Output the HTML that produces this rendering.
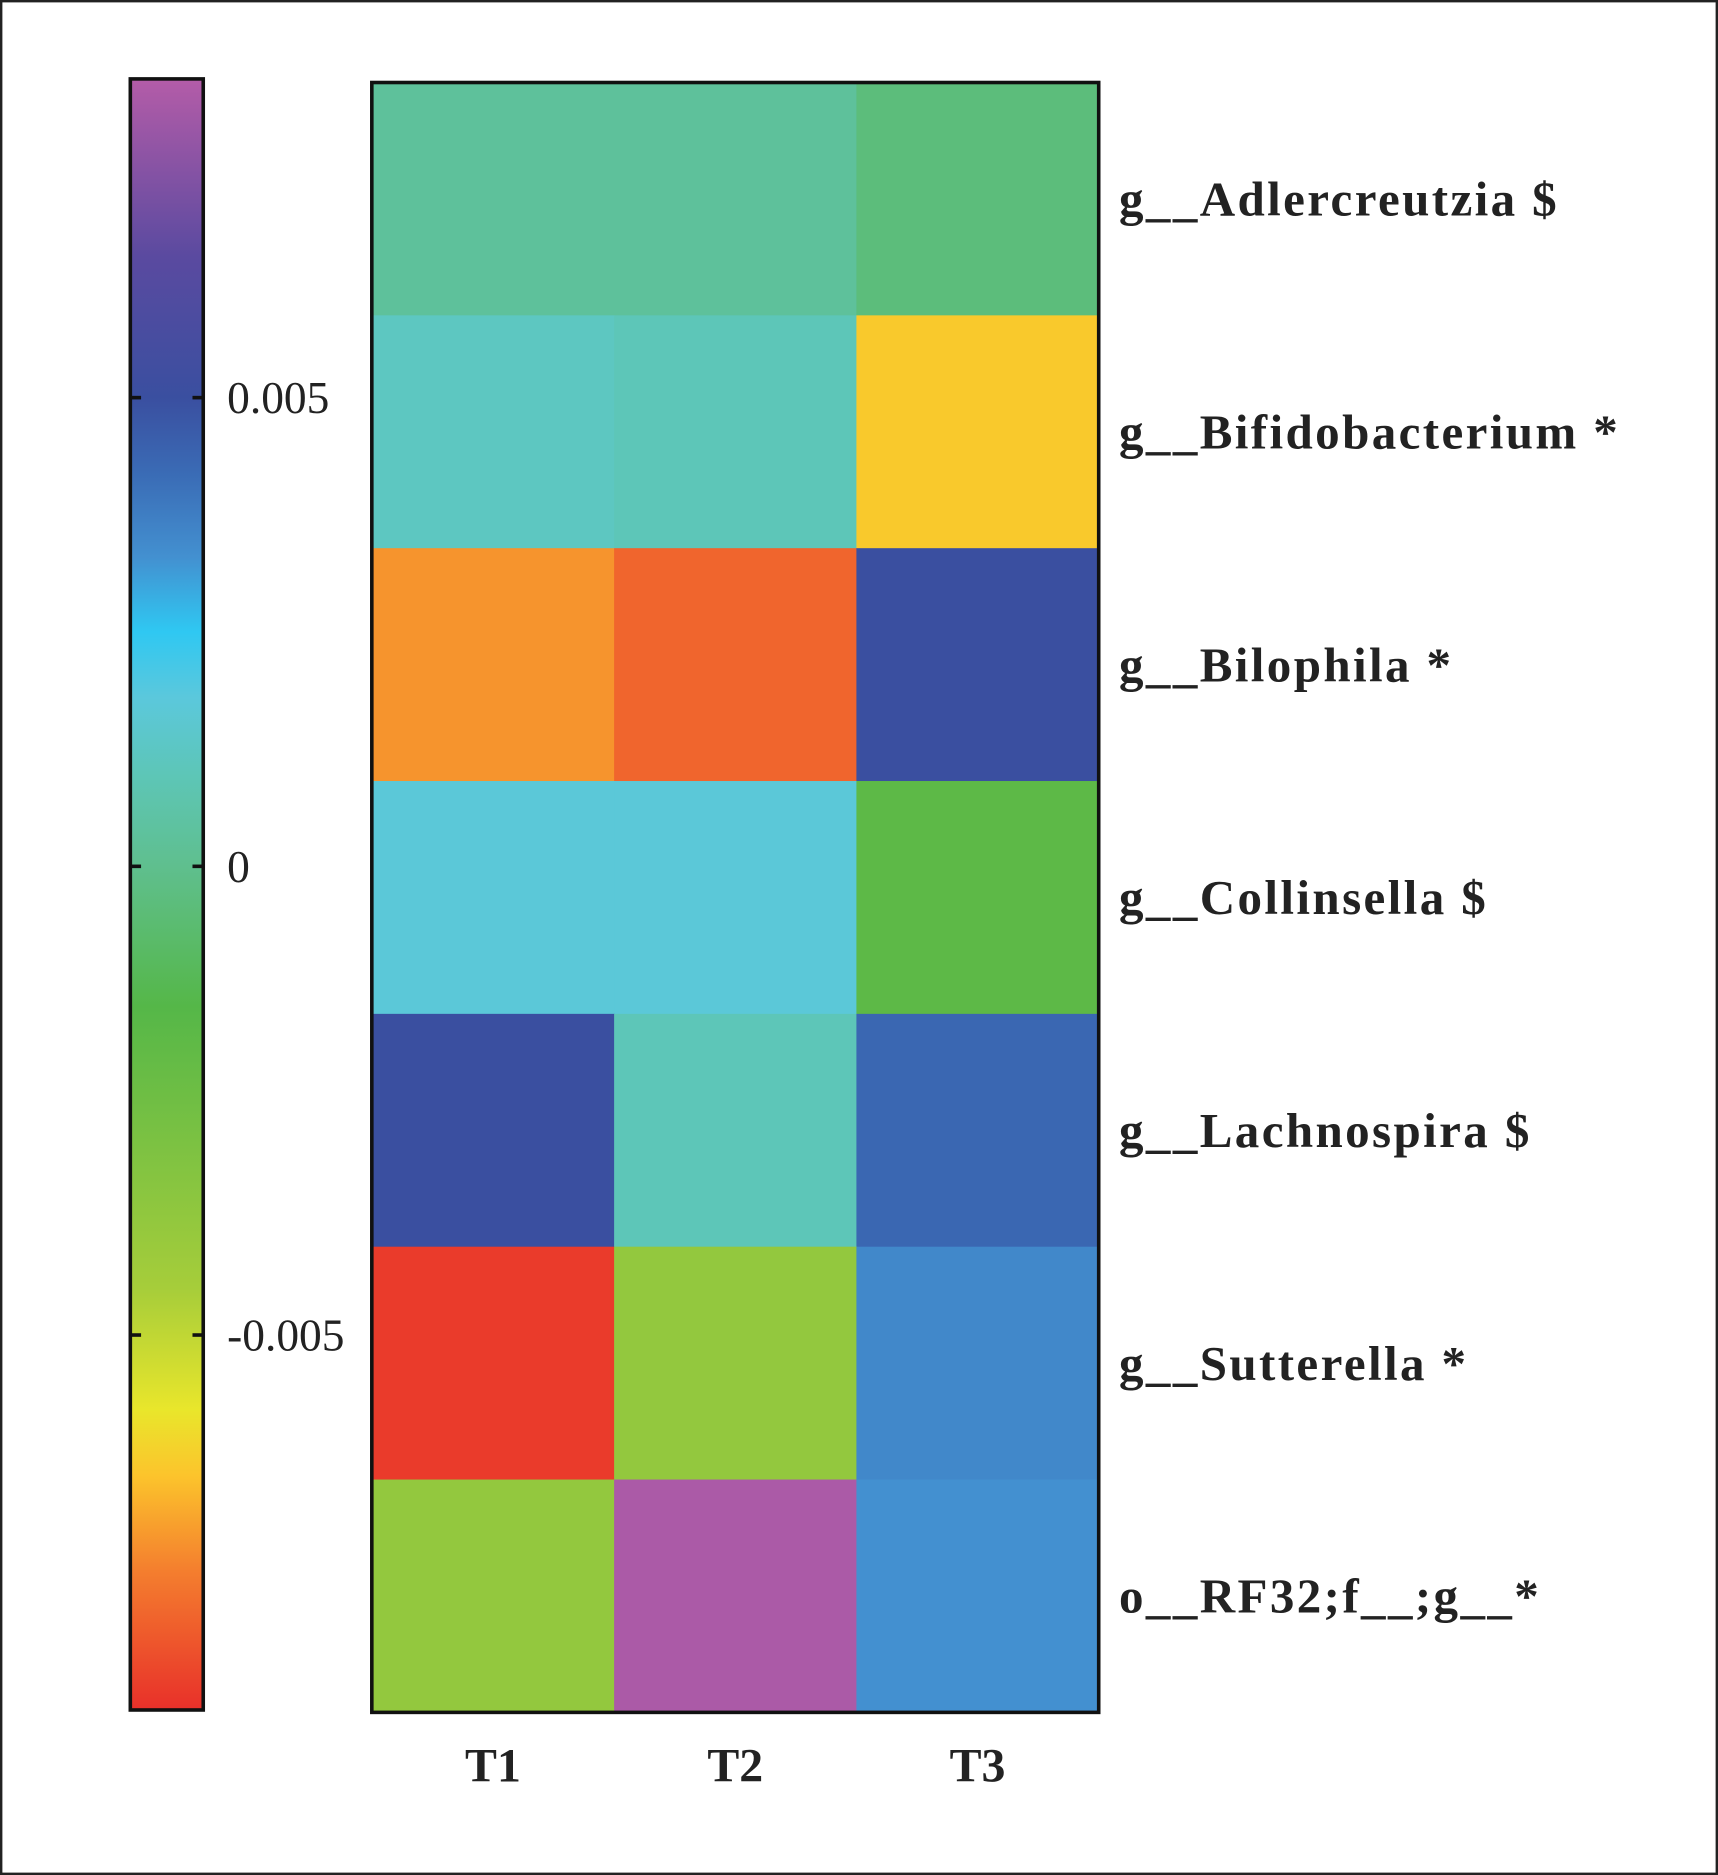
<!DOCTYPE html>
<html><head><meta charset="utf-8"><style>
html,body{margin:0;padding:0;background:#fff;}
svg{display:block;}
text{font-family:"Liberation Serif",serif;}
</style></head><body>
<svg id="chart" width="1718" height="1875" viewBox="0 0 1437 1568" preserveAspectRatio="none">
<defs><linearGradient id="cbar" x1="0" y1="1" x2="0" y2="0"></linearGradient></defs>
<rect x="1" y="1" width="1435" height="1566" fill="#fff" stroke="#222" stroke-width="2"/>
<g id="cb"></g><g id="cells"></g><g id="labels"></g>
</svg>
<script>
const rows = ["g__Adlercreutzia $","g__Bifidobacterium  *","g__Bilophila  *","g__Collinsella $","g__Lachnospira $","g__Sutterella  *","o__RF32;f__;g__*"];
const cols = ["T1","T2","T3"];
const values = [
 [0.0003,0.0003,-0.0004],
 [0.0012,0.0010,-0.0064],
 [-0.0072,-0.0080,0.0050],
 [0.0017,0.0017,-0.0018],
 [0.0050,0.0010,0.0043],
 [-0.0088,-0.0038,0.0035],
 [-0.0038,0.0082,0.0033]
];
const tickValues = [0.005,0,-0.005];
const tickLabels = ["0.005","0","-0.005"];
const stopVals = [-0.009,-0.0075,-0.0065,-0.0058,-0.0045,-0.003,-0.0015,0,0.001,0.0018,0.0025,0.0033,0.0042,0.005,0.0065,0.0084];
const stopCols = ["#e8302a","#f47f2e","#fcc42c","#e9e62b","#a6cd3a","#7dc242","#55b748","#5fbf8e","#5dc6b8","#5bc8dc","#2fc8f2","#4390d0","#3a6bb5","#3a4fa0","#5a4aa0","#b45ca8"];
const NS="http://www.w3.org/2000/svg";
const vmin=-0.009, vmax=0.0084;
const cbTop=66, cbBot=1430;
function cbY(v){return cbBot-(v-vmin)/(vmax-vmin)*(cbBot-cbTop);}
function hex(c){return [1,3,5].map(i=>parseInt(c.substr(i,2),16));}
function color(v){
 if(v<=stopVals[0])return stopCols[0];
 for(let i=1;i<stopVals.length;i++){
  if(v<=stopVals[i]){const t=(v-stopVals[i-1])/(stopVals[i]-stopVals[i-1]);
   const a=hex(stopCols[i-1]),b=hex(stopCols[i]);
   return "rgb("+a.map((x,k)=>Math.round(x+(b[k]-x)*t)).join(",")+")";}
 }
 return stopCols[stopCols.length-1];
}
function mk(tag,attrs,parent){const e=document.createElementNS(NS,tag);for(const k in attrs)e.setAttribute(k,attrs[k]);parent.appendChild(e);return e;}
const grad=document.getElementById('cbar');
stopVals.forEach((v,i)=>{mk('stop',{offset:((v-vmin)/(vmax-vmin)).toFixed(4),'stop-color':stopCols[i]},grad);});
const cb=document.getElementById('cb');
const bar=mk('rect',{x:109,y:cbTop,width:61,height:cbBot-cbTop,fill:'url(#cbar)',stroke:'#111','stroke-width':3},cb);


tickValues.forEach((v,i)=>{
 const y=cbY(v);
 const t1=mk('line',{x1:109,x2:118,y1:y,y2:y,stroke:'#111','stroke-width':3},cb);
 
 
 const t2=mk('line',{x1:161,x2:170,y1:y,y2:y,stroke:'#111','stroke-width':3},cb);
 
 
 const tx=mk('text',{x:190,y:y+13,'font-size':38,fill:'#222'},cb);
 tx.textContent=tickLabels[i];
 
 
});
const hx0=311, hx1=919, hy0=69, hy1=1432;
const cw=(hx1-hx0)/cols.length, rh=(hy1-hy0)/rows.length;
const cells=document.getElementById('cells'), labels=document.getElementById('labels');
values.forEach((r,ri)=>r.forEach((v,ci)=>{
 const c=mk('rect',{x:hx0+ci*cw,y:hy0+ri*rh,width:cw+0.5,height:rh+0.5,fill:color(v)},cells);
 
 
}));
const fr=mk('rect',{x:hx0,y:hy0,width:hx1-hx0,height:hy1-hy0,fill:'none',stroke:'#111','stroke-width':3},cells);


rows.forEach((r,i)=>{
 const t=mk('text',{x:936,y:hy0+(i+0.5)*rh+14,'font-size':41,'font-weight':'bold','letter-spacing':2,fill:'#222','xml:space':'preserve'},labels);
 t.textContent=r;
 
 
});
cols.forEach((c,i)=>{
 const t=mk('text',{x:hx0+(i+0.5)*cw,y:1490,'font-size':40,'font-weight':'bold',fill:'#222','text-anchor':'middle'},labels);
 t.textContent=c;
 
 
});
</script>
</body></html>
